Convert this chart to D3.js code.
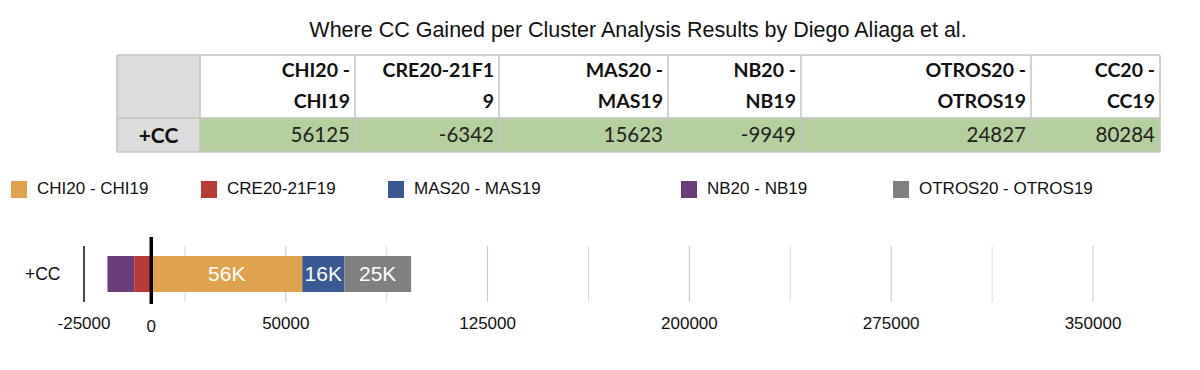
<!DOCTYPE html>
<html>
<head>
<meta charset="utf-8">
<script src="https://cdn.jsdelivr.net/npm/d3@7"></script>
<style>
  body { margin: 0; background: #fff; }
  svg { display: block; }
</style>
</head>
<body>
<svg id="chart" width="1200" height="370"></svg>
<script>
// data
const title = "Where CC Gained per Cluster Analysis Results by Diego Aliaga et al.";
const rowLabel = "+CC";
const columns = ["CHI20 - CHI19", "CRE20-21F19", "MAS20 - MAS19", "NB20 - NB19", "OTROS20 - OTROS19", "CC20 - CC19"];
const headerLines = [["CHI20 -", "CHI19"], ["CRE20-21F1", "9"], ["MAS20 -", "MAS19"], ["NB20 -", "NB19"], ["OTROS20 -", "OTROS19"], ["CC20 -", "CC19"]];
const values = [56125, -6342, 15623, -9949, 24827, 80284];
const series = ["CHI20 - CHI19", "CRE20-21F19", "MAS20 - MAS19", "NB20 - NB19", "OTROS20 - OTROS19"];
const seriesValues = [56125, -6342, 15623, -9949, 24827];
const colors = ["#dfa24e", "#b83b37", "#3a5892", "#6a3c78", "#808080"];
const tickLabels = [-25000, 0, 50000, 125000, 200000, 275000, 350000];
const gridValues = [12500, 50000, 87500, 125000, 162500, 200000, 237500, 275000, 312500, 350000];

const svg = d3.select("#chart");
const font = "'Liberation Sans', Arial, sans-serif";

// titel
svg.append("text")
    .attr("x", 638)
    .attr("y", 37)
    .attr("text-anchor", "middle")
    .style("font-family", font)
    .style("font-size", "21.5px")
    .style("fill", "#111")
    .text(title);

// tabel
const colEdges = [200, 355, 499, 668, 801, 1031, 1160];
const tLeft = 117, tTop = 55, tMid = 118, tBottom = 152;
const table = svg.append("g");
const tfont = "Lato, 'Open Sans', sans-serif";

table.append("rect")
    .attr("x", tLeft).attr("y", tTop)
    .attr("width", colEdges[0] - tLeft).attr("height", tBottom - tTop)
    .style("fill", "#dcdcdc");
table.append("rect")
    .attr("x", colEdges[0]).attr("y", tMid)
    .attr("width", colEdges[6] - colEdges[0]).attr("height", tBottom - tMid)
    .style("fill", "#b6cf9e");

// lijnen
const hLines = [tTop, tMid, tBottom];
table.selectAll("line.h")
    .data(hLines)
    .join("line")
    .attr("x1", tLeft).attr("x2", colEdges[6])
    .attr("y1", d => d).attr("y2", d => d)
    .style("stroke", "#c4c4c4")
    .style("stroke-width", 1.5);
table.selectAll("line.v")
    .data([tLeft].concat(colEdges))
    .join("line")
    .attr("x1", d => d).attr("x2", d => d)
    .attr("y1", tTop).attr("y2", tBottom)
    .style("stroke", "#c4c4c4")
    .style("stroke-width", 1.5);

// header
columns.forEach((c, i) => {
    const t = table.append("text")
        .attr("x", colEdges[i + 1] - 5)
        .attr("text-anchor", "end")
        .style("font-family", tfont)
        .style("font-weight", "bold")
        .style("font-size", "19.5px")
        .style("fill", "#111");
    headerLines[i].forEach((l, j) => {
        t.append("tspan")
            .attr("x", colEdges[i + 1] - 5)
            .attr("y", 77 + j * 31)
            .text(l);
    });
    table.append("text")
        .attr("x", colEdges[i + 1] - 5)
        .attr("y", 142)
        .attr("text-anchor", "end")
        .style("font-family", tfont)
        .style("font-size", "20.5px")
        .style("fill", "#222")
        .text(values[i]);
});

table.append("text")
    .attr("x", (tLeft + colEdges[0]) / 2)
    .attr("y", 143)
    .attr("text-anchor", "middle")
    .style("font-family", tfont)
    .style("font-weight", "bold")
    .style("font-size", "21px")
    .style("fill", "#111")
    .text(rowLabel);

// legenda
const legendX = [11, 201, 388, 681, 893];
const legend = svg.append("g")
    .selectAll("g")
    .data(series)
    .join("g")
    .attr("transform", (d, i) => `translate(${legendX[i]}, 181)`);
legend.append("rect")
    .attr("width", 16).attr("height", 17)
    .style("fill", (d, i) => colors[i]);
legend.append("text")
    .attr("x", 26)
    .attr("y", 9)
    .attr("dominant-baseline", "middle")
    .style("font-family", font)
    .style("font-size", "17px")
    .style("fill", "#111")
    .text(d => d);

// bar schaal
const x = d3.scaleLinear()
    .domain([-25000, 350000])
    .range([84, 1093]);

const barTop = 256, barH = 36;

// grid
svg.selectAll("line.grid")
    .data(gridValues)
    .join("line")
    .attr("x1", d => x(d)).attr("x2", d => x(d))
    .attr("y1", 246).attr("y2", 302)
    .style("stroke", (d, i) => i % 2 ? "#c4c4c4" : "#dadada")
    .style("stroke-width", 1);

// stack: positief naar rechts, negatief naar links
let pos = 0, neg = 0;
const segs = seriesValues.map((v, i) => {
    let x0, x1;
    if (v >= 0) { x0 = pos; x1 = pos + v; pos = x1; }
    else { x1 = neg; x0 = neg + v; neg = x0; }
    return { name: series[i], value: v, x0, x1, color: colors[i] };
});

svg.selectAll("rect.seg")
    .data(segs)
    .join("rect")
    .attr("x", d => x(d.x0))
    .attr("y", barTop)
    .attr("width", d => x(d.x1) - x(d.x0))
    .attr("height", barH)
    .style("fill", d => d.color);

svg.selectAll("text.seg")
    .data(segs.filter(d => d.value > 0))
    .join("text")
    .attr("x", d => (x(d.x0) + x(d.x1)) / 2)
    .attr("y", barTop + barH / 2 + 1)
    .attr("text-anchor", "middle")
    .attr("dominant-baseline", "middle")
    .style("font-family", font)
    .style("font-size", "21px")
    .style("fill", "#fff")
    .text(d => Math.round(d.value / 1000) + "K");

// as lijnen
svg.append("line")
    .attr("x1", x(-25000)).attr("x2", x(-25000))
    .attr("y1", 246).attr("y2", 302)
    .style("stroke", "#111").style("stroke-width", 1.5);
svg.append("line")
    .attr("x1", x(0)).attr("x2", x(0))
    .attr("y1", 237).attr("y2", 304)
    .style("stroke", "#000").style("stroke-width", 3.5);

// categorie
svg.append("text")
    .attr("x", 25)
    .attr("y", 275)
    .attr("dominant-baseline", "middle")
    .style("font-family", font)
    .style("font-size", "17.5px")
    .style("fill", "#111")
    .text(rowLabel);

// tick labels
svg.selectAll("text.tick")
    .data(tickLabels)
    .join("text")
    .attr("x", d => x(d))
    .attr("y", d => d === 0 ? 332 : 329)
    .attr("text-anchor", "middle")
    .style("font-family", font)
    .style("font-size", "17px")
    .style("fill", "#111")
    .text(d => d);
</script>
</body>
</html>
